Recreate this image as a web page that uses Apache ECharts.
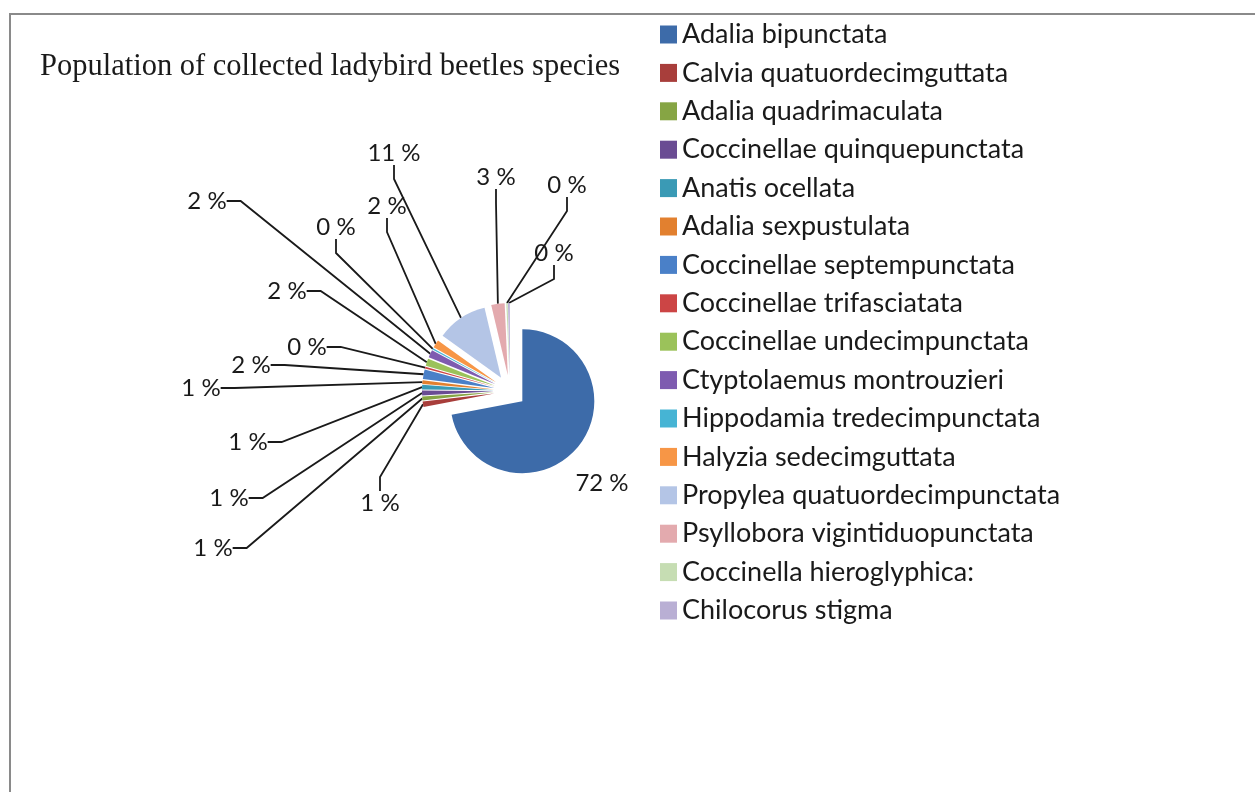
<!DOCTYPE html>
<html>
<head>
<meta charset="utf-8">
<title>Population of collected ladybird beetles species</title>
<script src="https://cdn.jsdelivr.net/npm/echarts@6/dist/echarts.min.js"></script>
<style>
  html, body { margin: 0; padding: 0; background: #fff; overflow: hidden; }
  .frame {
    position: absolute; left: 9px; top: 13px; width: 1260px; height: 800px;
    border-top: 2px solid #8a8a8a; border-left: 2px solid #8a8a8a;
  }
  #chart { position: absolute; left: 0; top: 0; width: 1255px; height: 792px; }
</style>
</head>
<body>
<div class="frame"></div>
<div id="chart"></div>
<script>
// species in legend order (clockwise from 12 o'clock)
const species = [
  "Adalia bipunctata",
  "Calvia quatuordecimguttata",
  "Adalia quadrimaculata",
  "Coccinellae quinquepunctata",
  "Anatis ocellata",
  "Adalia sexpustulata",
  "Coccinellae septempunctata",
  "Coccinellae trifasciatata",
  "Coccinellae undecimpunctata",
  "Ctyptolaemus montrouzieri",
  "Hippodamia tredecimpunctata",
  "Halyzia sedecimguttata",
  "Propylea quatuordecimpunctata",
  "Psyllobora vigintiduopunctata",
  "Coccinella hieroglyphica:",
  "Chilocorus stigma"
];
// share of the collection, %
const shares = [72.0, 1.2, 0.9, 1.1, 1.0, 0.8, 2.1, 0.4, 1.6, 1.7, 0.3, 1.8, 11.4, 3.0, 0.3, 0.4];

const palette = [
  "#3d6ba9", "#a83e3b", "#86a544", "#6a4c93", "#3a9ab5", "#e2802f",
  "#4a80c8", "#cc4545", "#9bc25a", "#7e5bb0", "#46b4d4", "#f79646",
  "#b4c5e6", "#e3aaae", "#c6ddb3", "#b9afd4"
];

// where each data label sits (centre of text), like the excel leader layout
const labelSpots = [
  [602, 483], [380, 503], [213, 548], [229, 498], [248, 442], [201, 388],
  [251, 365], [307, 347], [287, 291], [207, 201], [336, 227], [387, 206],
  [394, 153], [496, 177], [567, 185], [554, 253]
];

const pieCenter = [510, 391];
const pieRadius = 72;
const explode = 16;

const chart = echarts.init(document.getElementById("chart"));

// exploded slices
const sliceData = species.map((name, i) => ({ name: name, value: shares[i], selected: true }));
// label carrier: same angles, radius reaching the exploded rim
const labelData = species.map((name, i) => {
  const item = { name: name, value: shares[i] };
  if (i === 0) item.labelLine = { show: false };
  return item;
});

chart.setOption({
  animation: false,
  color: palette,
  title: {
    text: "Population of collected ladybird beetles species",
    left: 40,
    top: 51,
    padding: 0,
    textStyle: {
      fontFamily: "Liberation Serif",
      fontWeight: "normal",
      fontSize: 30.5,
      color: "#1a1a1a"
    }
  },
  legend: {
    orient: "vertical",
    left: 660,
    top: 21,
    padding: 0,
    icon: "rect",
    itemWidth: 17,
    itemHeight: 18,
    itemGap: 11.4,
    selectedMode: false,
    textStyle: {
      fontFamily: "Lato",
      fontSize: 27,
      color: "#1a1a1a"
    },
    data: species
  },
  series: [
    {
      type: "pie",
      center: pieCenter,
      radius: pieRadius,
      startAngle: 90,
      clockwise: true,
      selectedMode: "multiple",
      selectedOffset: explode,
      avoidLabelOverlap: false,
      emphasis: { disabled: true },
      itemStyle: { borderWidth: 0 },
      label: { show: false },
      labelLine: { show: false },
      data: sliceData
    },
    {
      type: "pie",
      silent: true,
      legendHoverLink: false,
      center: pieCenter,
      radius: pieRadius + explode,
      startAngle: 90,
      clockwise: true,
      avoidLabelOverlap: false,
      emphasis: { disabled: true },
      itemStyle: { color: "rgba(0,0,0,0)", borderWidth: 0 },
      label: {
        show: true,
        position: "outside",
        fontFamily: "Lato",
        fontSize: 24,
        color: "#1a1a1a",
        formatter: (p) => Math.round(p.percent) + " %"
      },
      labelLine: {
        show: true,
        length: 10,
        length2: 14,
        lineStyle: { color: "#1a1a1a", width: 1.8 }
      },
      labelLayout: (params) => {
        const spot = labelSpots[params.dataIndex];
        return {
          x: spot[0],
          y: spot[1],
          align: "center",
          verticalAlign: "middle",
          hideOverlap: false
        };
      },
      data: labelData
    }
  ]
});
</script>
</body>
</html>
